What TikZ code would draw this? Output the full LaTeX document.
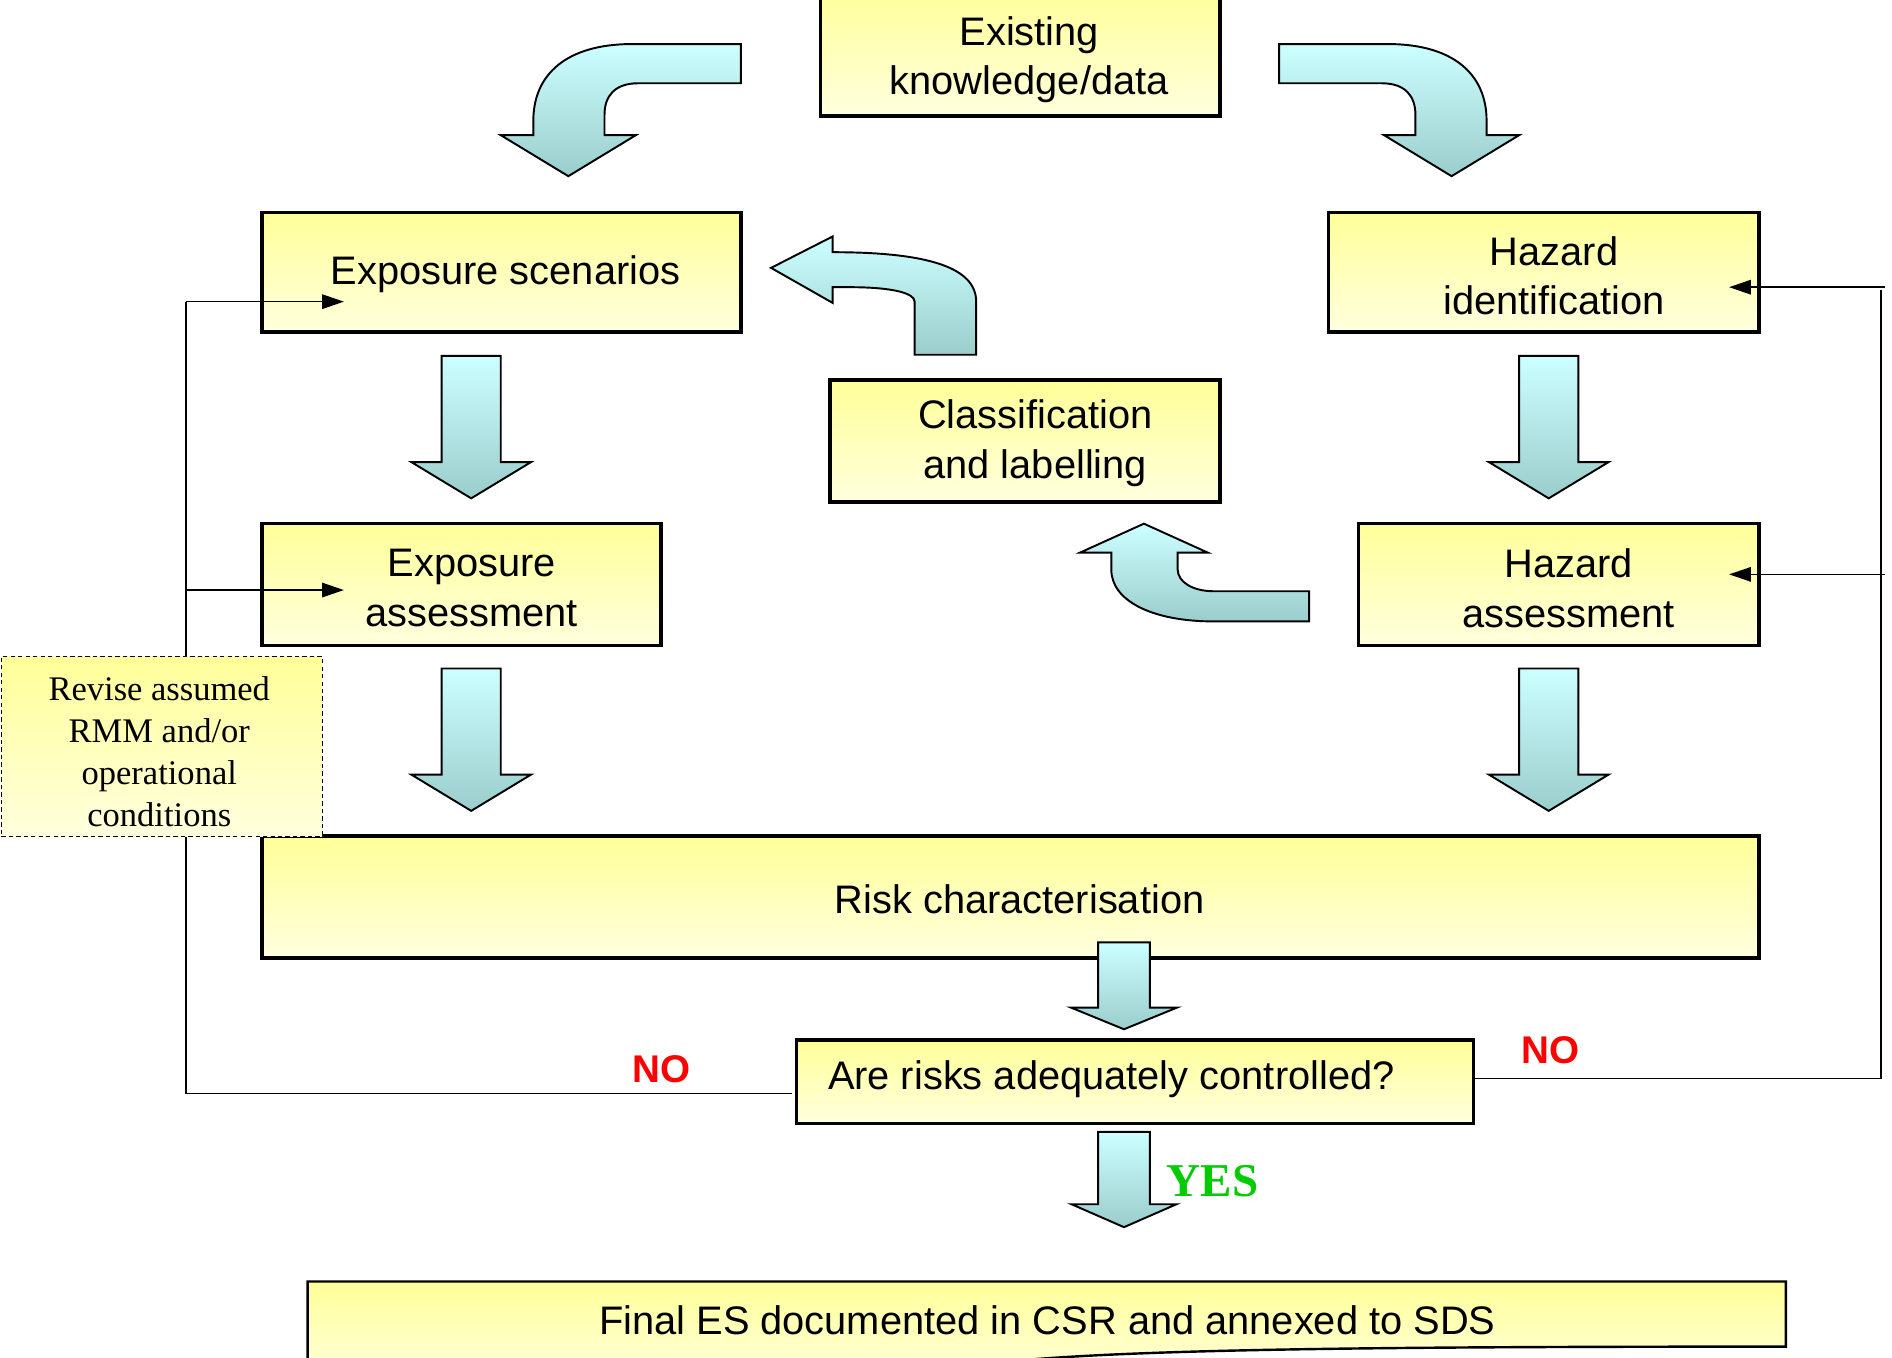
\documentclass[tikz,border=0pt]{standalone}
\usepackage{fontspec}
\setmainfont{Liberation Sans}
\newfontfamily\tnr{Liberation Serif}
\usetikzlibrary{arrows.meta,fit}
\definecolor{boxtop}{RGB}{255,255,153}
\definecolor{boxbot}{RGB}{255,255,222}
\definecolor{arrtop}{RGB}{204,255,255}
\definecolor{arrbot}{RGB}{155,205,205}
\definecolor{nored}{RGB}{255,0,0}
\definecolor{yesgreen}{RGB}{0,204,0}
\tikzset{
  ybox/.style={draw=black, line width=1.5pt, top color=boxtop, bottom color=boxbot, inner sep=0pt},
  blk/.style={draw=black, line width=0.8pt, line join=miter, top color=arrtop, bottom color=arrbot},
  fb/.style={draw=black, line width=0.6pt},
  fba/.style={fb, -{Triangle[length=9pt,width=6pt]}},
  txt/.style={font=\fontsize{16.5}{20.5}\selectfont, align=center, inner sep=0pt, yshift=-1.2pt},
  rtxt/.style={font=\tnr\fontsize{14.3}{17.3}\selectfont, align=center, inner sep=0pt},
  nolbl/.style={font=\bfseries\fontsize{16}{18}\selectfont, text=nored, inner sep=0pt},
  yeslbl/.style={font=\tnr\bfseries\fontsize{19.5}{22}\selectfont, text=yesgreen, inner sep=0pt}
}
\newcommand{\barrow}[6]{\path[blk] (#1-#5,#2) -- (#1+#5,#2) -- (#1+#5,#3) -- (#1+#6,#3) -- (#1,#4) -- (#1-#6,#3) -- (#1-#5,#3) -- cycle;}
\begin{document}
\begin{tikzpicture}[x=0.5pt,y=-0.5pt]
\useasboundingbox (0,0) rectangle (1568,1125);
\clip (0,0) rectangle (1568,1125);

% boxes
\node[ybox, fit={(680,-10) (1011,96)}] (ekd) {};
\node[ybox, fit={(217,176) (614,275)}] (es) {};
\node[ybox, fit={(1101,176) (1458,275)}] (hid) {};
\node[ybox, fit={(688,315) (1011,416)}] (cl) {};
\node[ybox, fit={(217,434) (548,535)}] (ea) {};
\node[ybox, fit={(1126,434) (1458,535)}] (ha) {};
\node[ybox, fit={(217,693) (1458,794)}] (rc) {};
\node[ybox, fit={(660,862) (1221,931)}] (are) {};
\node[draw=black, dashed, dash pattern=on 1.8pt off 1.3pt, line width=0.5pt, top color=boxtop, bottom color=boxbot, inner sep=0pt, fit={(1,544) (267,693)}] (rev) {};
\path[ybox, line width=1pt] (255,1140) -- (255,1062) -- (1480,1062) -- (1480,1116) .. controls (1150,1116) and (960,1118) .. (850,1127) -- (700,1145) -- cycle;

% texts
\node[txt] (ekd-t) at (853,47) {Existing\\knowledge/data};
\node[txt] (es-t) at (419,225) {Exposure scenarios};
\node[txt] (hid-t) at (1288,226) {Hazard\\identification};
\node[txt] (cl-t) at (858,365) {Classification\\and labelling};
\node[txt] (ea-t) at (391,485) {Exposure\\assessment};
\node[txt] (ha-t) at (1300,485) {Hazard\\assessment};
\node[txt] (rc-t) at (845,743) {Risk characterisation};
\node[txt] (are-t) at (921,892) {Are risks adequately controlled?};
\node[txt] (fin-t) at (868,1092) {Final ES documented in CSR and annexed to SDS};
\node[rtxt] (rev-t) at (132,623) {Revise assumed\\RMM and/or\\operational\\conditions};
\node[nolbl] (no1) at (548,886) {NO};
\node[nolbl] (no2) at (1285,870) {NO};
\node[yeslbl] (yes) at (1005,979) {YES};

% straight block arrows
\barrow{390.5}{295}{383}{413}{24.5}{49.5}
\barrow{390.5}{554}{642}{672}{24.5}{49.5}
\barrow{1283.5}{295}{383}{413}{24.5}{49.5}
\barrow{1283.5}{554}{642}{672}{24.5}{49.5}
\barrow{931.5}{781}{835}{853}{21.5}{44}
\barrow{931.5}{938}{998}{1017}{21.5}{43.5}

% curved block arrows
\path[blk] (614,36.5) -- (524,36.5) .. controls (469,36.5) and (442,62) .. (442,100) -- (442,112) -- (415,112) -- (471,146) -- (527,112) -- (501,112) -- (501,95) .. controls (501,80) and (509,69) .. (529,69) -- (614,69) -- cycle;
\path[blk] (1060,36.5) -- (1150,36.5) .. controls (1205,36.5) and (1232,62) .. (1232,100) -- (1232,112) -- (1259,112) -- (1203,146) -- (1147,112) -- (1173,112) -- (1173,95) .. controls (1173,80) and (1165,69) .. (1145,69) -- (1060,69) -- cycle;
\path[blk] (758,294) -- (809,294) -- (809,250) .. controls (809,222) and (770,209) .. (690,209) -- (690,196) -- (639,222) -- (690,251) -- (690,238) -- (704,238) .. controls (740,238) and (758,243) .. (758,250) -- cycle;
\path[blk] (1085,490) -- (1085,515) -- (1006,515) .. controls (955,515) and (921,498) .. (921,472) -- (921,458) -- (895,458) -- (948,434) -- (1001,458) -- (976,458) -- (976,472) .. controls (976,482) and (988,490) .. (1006,490) -- cycle;

% feedback connectors, left
\coordinate (L0) at (656,906);
\coordinate (L1) at (154,906);
\coordinate (L2) at (154,250);
\coordinate (L3) at (154,489);
\coordinate (Lt1) at (285,250);
\coordinate (Lt2) at (285,489);
\draw[fb] (L0) -- (L1) -- (L1 |- rev.south);
\draw[fb] (L1 |- rev.north) -- (L2);
\draw[fba] (L2) -- (Lt1);
\draw[fba] (L3) -- (Lt2);

% feedback connectors, right
\coordinate (R1) at (1559,894);
\coordinate (R2) at (1559,240);
\coordinate (R3) at (1562,238);
\coordinate (R4) at (1562,476);
\coordinate (Rt1) at (1433,238);
\coordinate (Rt2) at (1433,476);
\draw[fb] (are.east |- R1) -- (R1) -- (R2);
\draw[fba] (R3) -- (Rt1);
\draw[fba] (R4) -- (Rt2);
\end{tikzpicture}
\end{document}
